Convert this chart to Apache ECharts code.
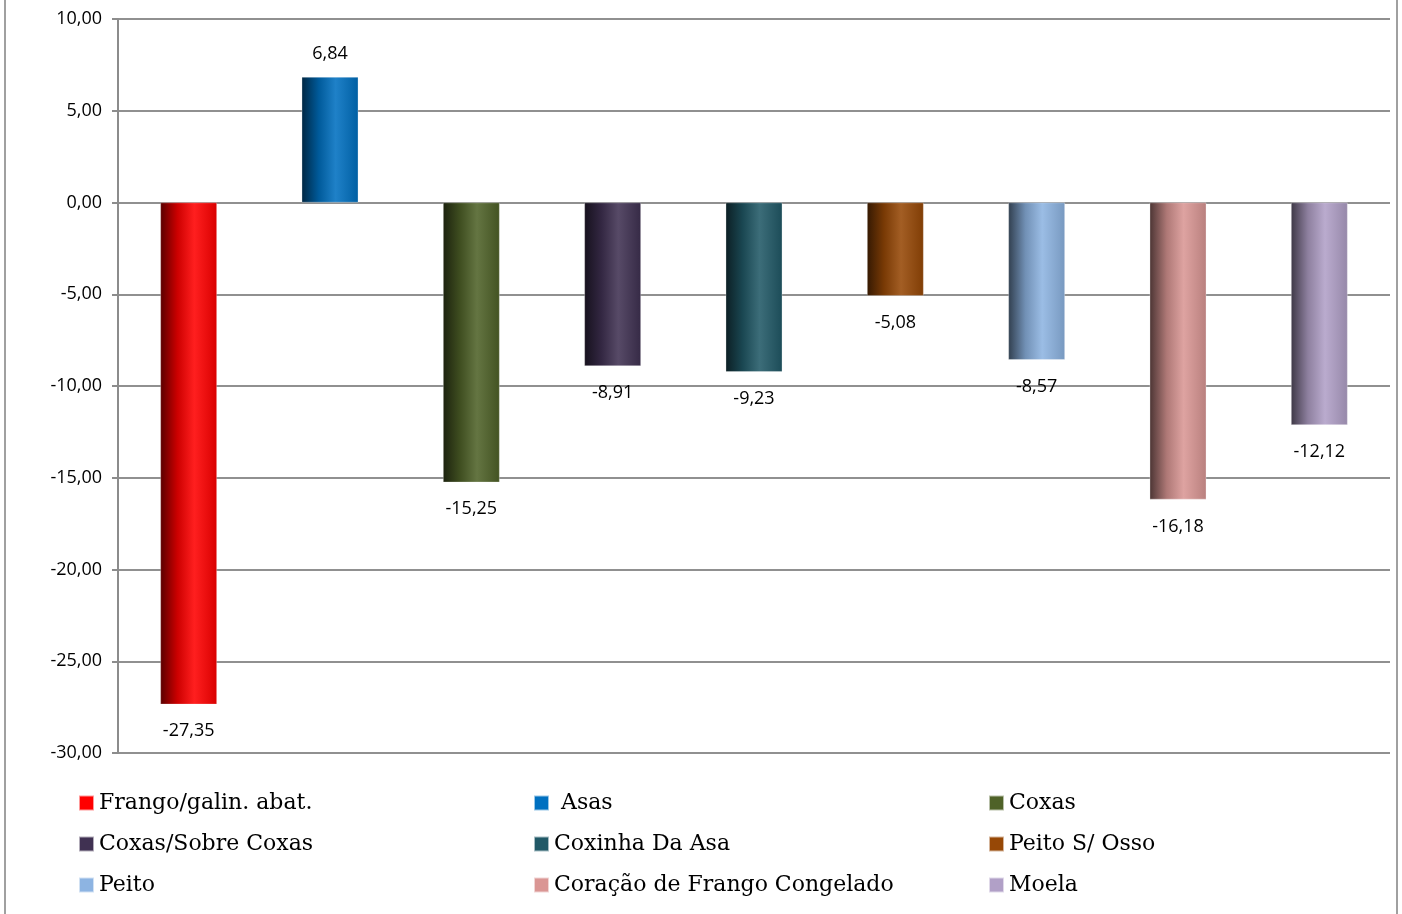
<!DOCTYPE html>
<html>
<head>
<meta charset="utf-8">
<script src="https://cdn.jsdelivr.net/npm/echarts@6/dist/echarts.min.js"></script>
<style>html,body{margin:0;padding:0;background:#fff;}#c{width:1402px;height:914px;}</style>
</head>
<body>
<div id="c"></div>
<script>
const categories = ['Frango/galin. abat.', 'Asas', 'Coxas', 'Coxas/Sobre Coxas', 'Coxinha Da Asa', 'Peito S/ Osso', 'Peito', 'Coração de Frango Congelado', 'Moela'];
const values = [-27.35, 6.84, -15.25, -8.91, -9.23, -5.08, -8.57, -16.18, -12.12];
const colors = ['#FF0000', '#0070C0', '#4F6228', '#403152', '#215967', '#974806', '#8DB4E2', '#DA9694', '#B1A0C7'];
const yTicks = { min: -30, max: 10, interval: 5 };
const legendColumns = [
  ['Frango/galin. abat.', 'Coxas/Sobre Coxas', 'Peito'],
  ['Asas', 'Coxinha Da Asa', 'Coração de Frango Congelado'],
  ['Coxas', 'Peito S/ Osso', 'Moela']
];

function shade(hex, f) {
  const n = parseInt(hex.slice(1), 16);
  let r = (n >> 16) & 255, g = (n >> 8) & 255, b = n & 255;
  if (f < 1) { r *= f; g *= f; b *= f; }
  else { const t = f - 1; r += (255 - r) * t; g += (255 - g) * t; b += (255 - b) * t; }
  const h = v => Math.round(Math.max(0, Math.min(255, v))).toString(16).padStart(2, '0');
  return '#' + h(r) + h(g) + h(b);
}
function fmt(v) { return v.toFixed(2).replace('.', ','); }

const series = categories.map((name, i) => {
  const data = categories.map((_, j) => j === i ? values[i] : '-');
  const c = colors[i];
  return {
    name: name,
    type: 'bar',
    stack: 'all',
    barWidth: '40%',
    data: data,
    itemStyle: {
      color: new echarts.graphic.LinearGradient(0, 0, 1, 0, [
        { offset: 0, color: shade(c, 0.35) },
        { offset: 0.3, color: shade(c, 0.8) },
        { offset: 0.6, color: shade(c, 1.12) },
        { offset: 1, color: shade(c, 0.85) }
      ]),
      borderColor: 'rgba(255,255,255,0.6)',
      borderWidth: 0.5
    },
    label: {
      show: true,
      position: values[i] >= 0 ? 'top' : 'bottom',
      distance: values[i] >= 0 ? 14 : 18,
      formatter: p => fmt(p.value),
      fontFamily: 'Open Sans',
      fontSize: 18,
      color: '#000'
    }
  };
});

const legendX = [78, 533, 988];
const legends = legendColumns.map((col, k) => ({
  orient: 'vertical',
  left: legendX[k],
  top: 792,
  padding: 0,
  itemGap: 19,
  itemWidth: 15,
  itemHeight: 15,
  icon: 'rect',
  data: col.map(n => ({ name: n, itemStyle: { color: colors[categories.indexOf(n)] } })),
  formatter: n => n === 'Asas' ? ' Asas' : n,
  textStyle: { fontFamily: 'DejaVu Serif', fontSize: 22, color: '#000', padding: [0, 0, 0, 0] },
  selectedMode: false
}));

const chart = echarts.init(document.getElementById('c'));
chart.setOption({
  backgroundColor: '#fff',
  animation: false,
  color: colors,
  grid: { left: 118, right: 12, top: 19, bottom: 161, containLabel: false },
  legend: legends,
  xAxis: {
    type: 'category',
    data: categories,
    axisLine: { show: false },
    axisTick: { show: false },
    axisLabel: { show: false },
    splitLine: { show: false }
  },
  yAxis: {
    type: 'value',
    min: yTicks.min,
    max: yTicks.max,
    interval: yTicks.interval,
    axisLine: { show: true, lineStyle: { color: '#8c8c8c', width: 2 } },
    axisTick: { show: true, length: 6, lineStyle: { color: '#8c8c8c', width: 2 } },
    axisLabel: { formatter: v => fmt(v), fontFamily: 'Open Sans', fontSize: 18, color: '#000', margin: 16 },
    splitLine: { show: true, lineStyle: { color: '#909090', width: 2 } }
  },
  graphic: [{
    type: 'rect',
    shape: { x: 5, y: -10, width: 1392, height: 934 },
    style: { fill: 'none', stroke: '#a0a0a0', lineWidth: 2 },
    silent: true
  }],
  series: series
});
</script>
</body>
</html>
